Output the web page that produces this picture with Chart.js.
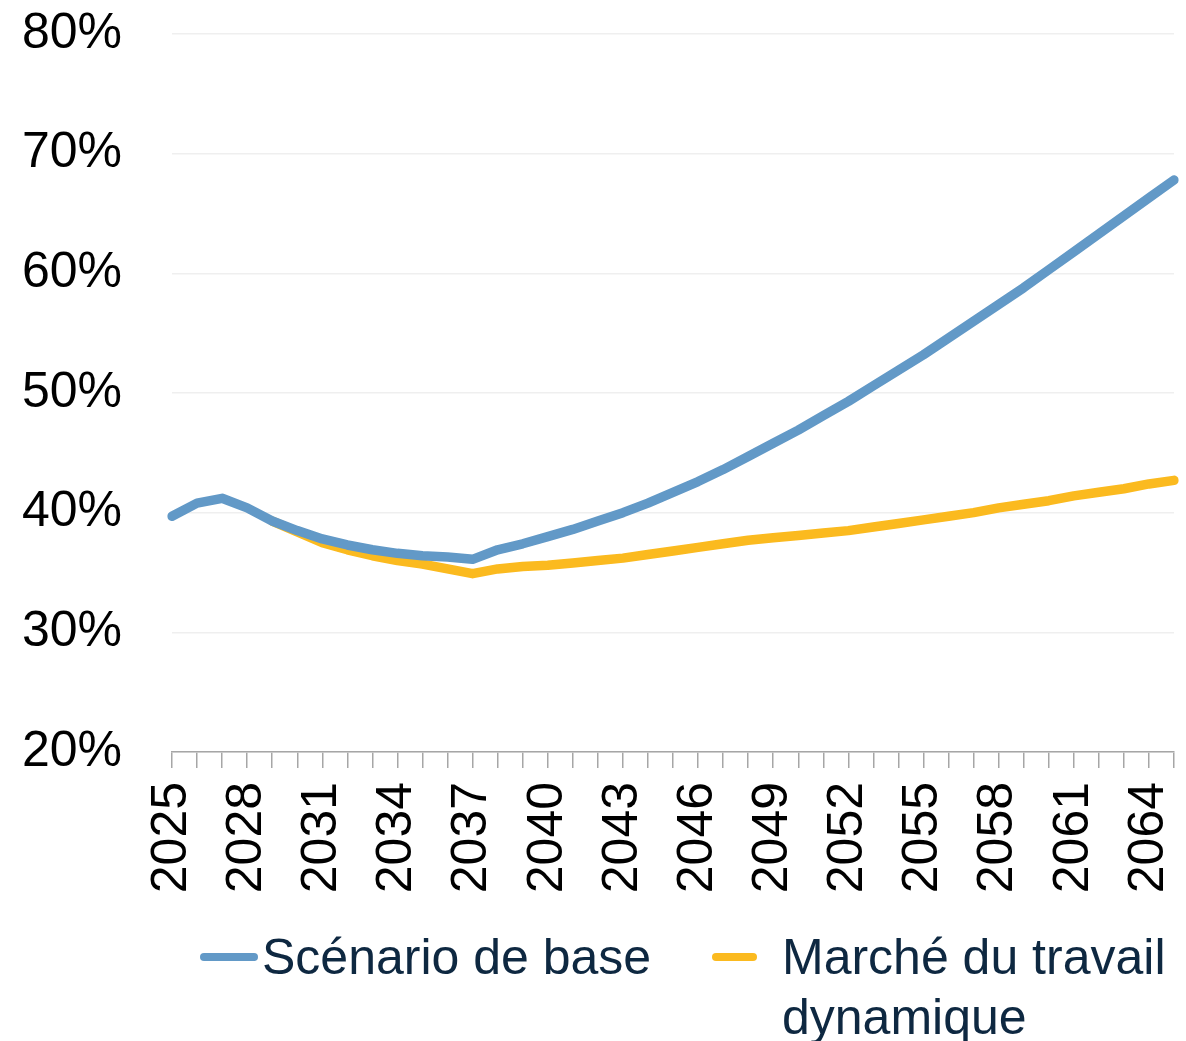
<!DOCTYPE html>
<html>
<head>
<meta charset="utf-8">
<script src="https://cdn.jsdelivr.net/npm/chart.js@4.4.1/dist/chart.umd.min.js"></script>
<style>
  html, body { margin: 0; padding: 0; background: #ffffff; }
  #wrap { position: relative; width: 1186px; height: 1041px; }
  #legend { position: absolute; left: 0; top: 0; width: 1186px; height: 1041px; pointer-events: none;
    font-family: "Liberation Sans", Arial, sans-serif; font-size: 50px; line-height: 60px; color: #0E2841; }
  .lg-mark { position: absolute; height: 8px; border-radius: 4px; }
  .lg-text { position: absolute; white-space: normal; }
</style>
</head>
<body>
<div id="wrap">
  <canvas id="c" width="1186" height="1041"></canvas>
  <div id="legend"></div>
</div>
<script>
const categories = ['2025','2026','2027','2028','2029','2030','2031','2032','2033','2034',
  '2035','2036','2037','2038','2039','2040','2041','2042','2043','2044',
  '2045','2046','2047','2048','2049','2050','2051','2052','2053','2054',
  '2055','2056','2057','2058','2059','2060','2061','2062','2063','2064','2065'];

const xTickLabels = ['2025','2028','2031','2034','2037','2040','2043','2046','2049','2052','2055','2058','2061','2064'];

const yTickValues = [20, 30, 40, 50, 60, 70, 80];

const seriesLabels = ['Scénario de base', 'Marché du travail dynamique'];

const scenarioBase = [39.7, 40.8, 41.2, 40.4, 39.3, 38.5, 37.8, 37.3, 36.9, 36.6,
  36.4, 36.3, 36.1, 36.9, 37.4, 38.0, 38.6, 39.3, 40.0, 40.8,
  41.7, 42.6, 43.6, 44.7, 45.8, 46.9, 48.1, 49.3, 50.6, 51.9,
  53.2, 54.6, 56.0, 57.4, 58.8, 60.3, 61.8, 63.3, 64.8, 66.3, 67.8];

const marcheTravail = [null, null, null, null, 39.3, 38.4, 37.5, 36.9, 36.4, 36.0,
  35.7, 35.3, 34.9, 35.3, 35.5, 35.6, 35.8, 36.0, 36.2, 36.5,
  36.8, 37.1, 37.4, 37.7, 37.9, 38.1, 38.3, 38.5, 38.8, 39.1,
  39.4, 39.7, 40.0, 40.4, 40.7, 41.0, 41.4, 41.7, 42.0, 42.4, 42.7];

const seriesColors = ['#6299C7', '#FBBA1F'];

const chart = new Chart(document.getElementById('c'), {
  type: 'line',
  data: {
    labels: categories,
    datasets: [
      { label: seriesLabels[0], data: scenarioBase, borderColor: seriesColors[0], backgroundColor: seriesColors[0],
        borderWidth: 9.5, pointRadius: 0, tension: 0, borderJoinStyle: 'round', borderCapStyle: 'round' },
      { label: seriesLabels[1], data: marcheTravail, borderColor: seriesColors[1], backgroundColor: seriesColors[1],
        borderWidth: 9.5, pointRadius: 0, tension: 0, borderJoinStyle: 'round', borderCapStyle: 'round' }
    ]
  },
  options: {
    responsive: false,
    animation: false,
    layout: { padding: { top: 34, right: 12, left: 0, bottom: 0 } },
    plugins: { legend: { display: false }, tooltip: { enabled: false } },
    scales: {
      x: {
        type: 'category',
        offset: false,
        grid: { display: true, drawOnChartArea: false, drawTicks: true, tickLength: 16, color: '#A6A6A6', lineWidth: 1.5 },
        border: { display: true, color: '#A6A6A6', width: 1.5 },
        ticks: {
          autoSkip: false, maxRotation: 90, minRotation: 90, padding: 14, color: '#000000',
          font: { family: '"Liberation Sans", Arial, sans-serif', size: 50 },
          callback: function (val) {
            const lab = this.getLabelForValue(val);
            return xTickLabels.includes(lab) ? lab : '';
          }
        },
        afterFit: function (scale) { scale.height = 1041 - 752; scale.paddingLeft = 0; scale.paddingRight = 0; }
      },
      y: {
        min: yTickValues[0], max: yTickValues[yTickValues.length - 1],
        grid: { color: '#EFEFEF', lineWidth: 1.5, drawTicks: false },
        border: { display: false },
        ticks: {
          stepSize: yTickValues[1] - yTickValues[0], padding: 50, color: '#000000',
          font: { family: '"Liberation Sans", Arial, sans-serif', size: 50 },
          callback: function (v) { return v + '%'; }
        },
        afterFit: function (scale) { scale.width = 172; scale.paddingTop = 0; scale.paddingBottom = 0; }
      }
    }
  }
});

// HTML legend built from the datasets
const legendPos = [
  { mark: [200, 58], text: 262, width: 420 },
  { mark: [712, 45], text: 782, width: 410 }
];
const lg = document.getElementById('legend');
chart.data.datasets.forEach((ds, i) => {
  const m = document.createElement('div');
  m.className = 'lg-mark';
  m.style.left = legendPos[i].mark[0] + 'px';
  m.style.width = legendPos[i].mark[1] + 'px';
  m.style.top = (957 - 4) + 'px';
  m.style.background = ds.borderColor;
  lg.appendChild(m);
  const t = document.createElement('div');
  t.className = 'lg-text';
  t.style.left = legendPos[i].text + 'px';
  t.style.top = (957 - 30) + 'px';
  t.style.width = legendPos[i].width + 'px';
  t.textContent = ds.label;
  lg.appendChild(t);
});
</script>
</body>
</html>
